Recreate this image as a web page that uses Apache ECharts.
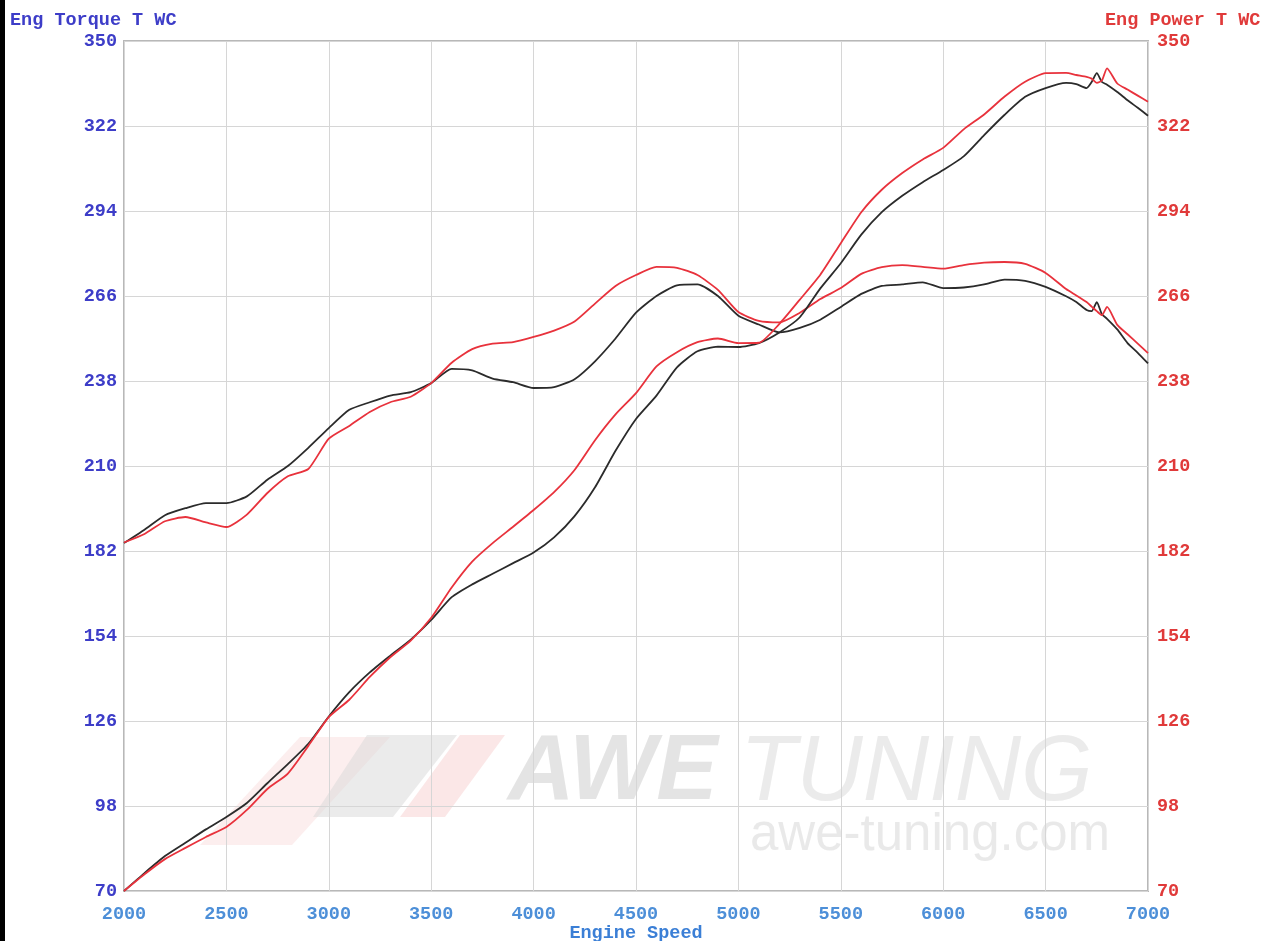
<!DOCTYPE html>
<html>
<head>
<meta charset="utf-8">
<script src="https://cdn.jsdelivr.net/npm/echarts@6/dist/echarts.min.js"></script>
<style>
html,body{margin:0;padding:0;background:#fff;}
#chart{width:1263px;height:941px;}
</style>
</head>
<body>
<div id="chart"></div>
<script>
// Engine speed (rpm)
const rpm = [2000,2100,2200,2300,2400,2500,2600,2700,2800,2900,3000,3100,3200,3300,3400,3500,3600,3700,3800,3900,4000,4100,4200,4300,4400,4500,4600,4700,4800,4900,5000,5100,5200,5300,5400,5500,5600,5700,5800,5900,6000,6100,6200,6300,6400,6500,6600,6650,6700,6725,6750,6775,6800,6850,6900,6950,7000];

// Torque (left axis) - black and red runs
const torqueBlack = [184.6,189,193.8,196.1,197.8,197.8,200,205.5,210,216,222.5,228.5,231,233.2,234.3,237.3,242,241.5,238.8,237.6,235.7,236,238.6,244.5,252,260.5,266,269.5,269.8,266,259.5,256.6,254,255.5,258.2,262.4,266.7,269.3,269.8,270.5,268.6,268.8,269.8,271.4,271,269,265.9,264,261.4,261,264,260,258.5,255,250.5,247.3,243.8];
const torqueRed = [184.8,187.6,191.8,193.2,191.4,189.9,194,201.1,206.6,209,219,223.2,227.8,231,232.8,237.3,244,248.5,250.3,250.8,252.5,254.6,257.6,263.5,269.3,272.9,275.6,275.3,272.9,268,260.7,257.8,257.3,260.5,265,268.6,273.3,275.5,276.2,275.6,275,276.2,277,277.2,276.6,273.6,268.3,266.2,264,262.5,261,259.7,262.4,256.5,253.4,250.3,247.2];

// Power (right axis) - black and red runs
const powerBlack = [70,75.9,81.5,85.9,90.3,94.4,99,105.5,111.8,118.5,127.5,135.5,142,147.5,152.8,159.3,166.8,171,174.5,178,181.5,186.5,193.5,203,215,225.5,233.2,242.5,247.8,249.3,249.2,250.5,254,259,268.5,276.8,286.2,293.6,299,303.5,307.5,312,319,325.7,331.6,334.5,336.2,335.8,334.5,336.5,339.4,336.5,335.6,333.2,330.5,328,325.4];
const powerRed = [70,75.5,80.5,84.2,87.8,91.1,96.7,103.6,108.7,117.8,127.3,133,140.5,147,152.5,160,170,178.5,184.6,190,195.5,201.4,208.7,218.5,227,234,242.8,247.5,250.8,252,250.5,250.6,256.8,264.8,273,283.4,293.6,301,306.5,311,314.8,320.9,325.8,331.7,336.6,339.4,339.5,338.8,338.2,337.6,336.2,337,341,336,334,332,330];

// Tick labels
const yTicks = [70,98,126,154,182,210,238,266,294,322,350];
const xTicks = [2000,2500,3000,3500,4000,4500,5000,5500,6000,6500,7000];

const pairs = (vals) => rpm.map((r, i) => [r, vals[i]]);

const FONT = '"Liberation Mono", "DejaVu Sans Mono", monospace';
const FS = 18.5;
const chart = echarts.init(document.getElementById('chart'), null, {renderer: 'canvas'});

chart.setOption({
  backgroundColor: '#ffffff',
  animation: false,
  grid: {left: 124, right: 115, top: 41, bottom: 50, containLabel: false, outerBoundsMode: 'none', show: true, borderColor: '#b8b8b8', borderWidth: 2, backgroundColor: 'transparent'},
  xAxis: {
    type: 'value', min: 2000, max: 7000, interval: 500,
    name: 'Engine Speed', nameLocation: 'middle', nameGap: 42, nameMoveOverlap: false,
    nameTextStyle: {color: '#3b7fd6', fontFamily: FONT, fontSize: FS, fontWeight: 'bold', verticalAlign: 'middle'},
    axisLine: {show: false}, axisTick: {show: false},
    axisLabel: {color: '#4d8fd8', fontFamily: FONT, fontSize: FS, fontWeight: 'bold', margin: 14, customValues: xTicks, formatter: (v) => String(v)},
    splitLine: {show: true, lineStyle: {color: '#d6d6d6', width: 1}}
  },
  yAxis: [
    {
      type: 'value', min: 70, max: 350, position: 'left',
      axisLine: {show: false}, axisTick: {show: false, customValues: yTicks},
      axisLabel: {color: '#3d3dc8', fontFamily: FONT, fontSize: FS, fontWeight: 'bold', margin: 7, customValues: yTicks},
      splitLine: {show: true, lineStyle: {color: '#d6d6d6', width: 1}}
    },
    {
      type: 'value', min: 70, max: 350, position: 'right',
      axisLine: {show: false}, axisTick: {show: false, customValues: yTicks},
      axisLabel: {color: '#e03a3a', fontFamily: FONT, fontSize: FS, fontWeight: 'bold', margin: 9, customValues: yTicks},
      splitLine: {show: false}
    }
  ],
  graphic: [
    {type: 'rect', left: 0, top: 0, z: 100, shape: {width: 5, height: 941}, style: {fill: '#000'}},
    {type: 'text', left: 10, top: 11, style: {text: 'Eng Torque T WC', fill: '#3d3dc8', font: 'bold ' + FS + 'px ' + FONT}},
    {type: 'text', left: 1105, top: 11, style: {text: 'Eng Power T WC', fill: '#e03a3a', font: 'bold ' + FS + 'px ' + FONT}},
    // watermark
    {type: 'polygon', z: -1, shape: {points: [[200,845],[300,737],[390,737],[292,845]]}, style: {fill: 'rgba(240,170,170,0.2)'}},
    {type: 'polygon', z: -1, shape: {points: [[367,735],[457,735],[393,817],[313,817]]}, style: {fill: 'rgba(215,215,215,0.5)'}},
    {type: 'polygon', z: -1, shape: {points: [[460,735],[505,735],[445,817],[400,817]]}, style: {fill: 'rgba(240,170,170,0.28)'}},
    {type: 'text', z: -1, left: 508, top: 728, style: {text: 'AWE', fill: 'rgba(205,205,205,0.55)', font: 'italic bold 92px "Liberation Sans", Arial, sans-serif'}},
    {type: 'text', z: -1, left: 740, top: 728, style: {text: 'TUNING', fill: 'rgba(215,215,215,0.5)', font: 'italic 92px "Liberation Sans", Arial, sans-serif'}},
    {type: 'text', z: -1, left: 750, top: 810, style: {text: 'awe-tuning.com', fill: 'rgba(215,215,215,0.55)', font: '51px "Liberation Sans", Arial, sans-serif'}}
  ],
  series: [
    {name: 'Torque black', type: 'line', yAxisIndex: 0, data: pairs(torqueBlack), showSymbol: false, smooth: 0.2, lineStyle: {color: '#2b2b2b', width: 1.8}, itemStyle: {color: '#2b2b2b'}},
    {name: 'Torque red', type: 'line', yAxisIndex: 0, data: pairs(torqueRed), showSymbol: false, smooth: 0.2, lineStyle: {color: '#e8323c', width: 1.8}, itemStyle: {color: '#e8323c'}},
    {name: 'Power black', type: 'line', yAxisIndex: 1, data: pairs(powerBlack), showSymbol: false, smooth: 0.2, lineStyle: {color: '#2b2b2b', width: 1.8}, itemStyle: {color: '#2b2b2b'}},
    {name: 'Power red', type: 'line', yAxisIndex: 1, data: pairs(powerRed), showSymbol: false, smooth: 0.2, lineStyle: {color: '#e8323c', width: 1.8}, itemStyle: {color: '#e8323c'}}
  ]
});
</script>
</body>
</html>
